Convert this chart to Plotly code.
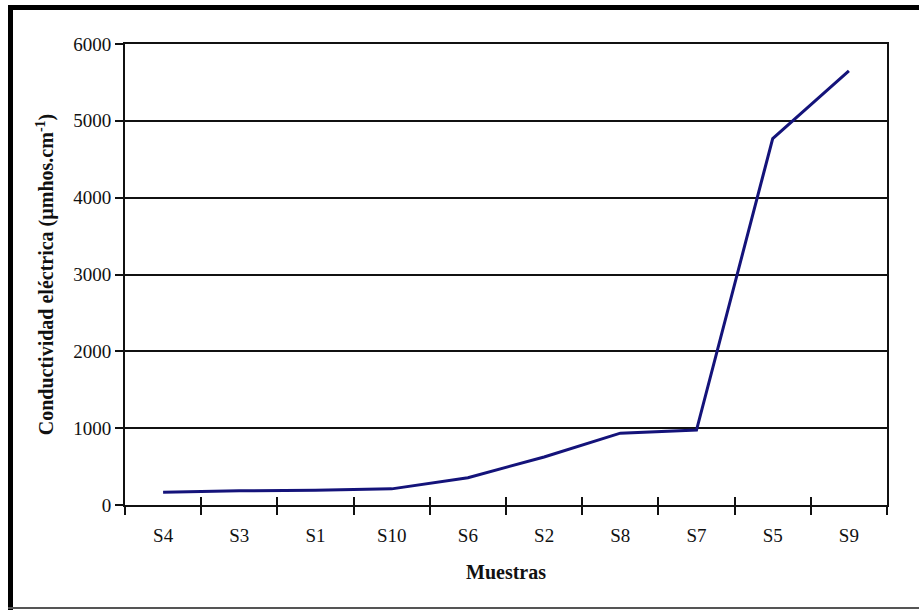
import plotly.graph_objects as go

muestras = ["S4", "S3", "S1", "S10", "S6", "S2", "S8", "S7", "S5", "S9"]
conductividad = [166, 185, 192, 210, 355, 625, 935, 975, 4770, 5650]
y_ticks = [0, 1000, 2000, 3000, 4000, 5000, 6000]

FONT = '"Liberation Serif", "Times New Roman", Times, serif'

fig = go.Figure()
fig.add_trace(go.Scatter(
    x=muestras, y=conductividad, mode="lines",
    line=dict(color="#14137a", width=3),
    showlegend=False, hoverinfo="skip"))
# invisible trace on second x axis to draw inside half of crossing ticks
fig.add_trace(go.Scatter(
    x=muestras, y=conductividad, mode="lines", xaxis="x2",
    line=dict(color="rgba(0,0,0,0)", width=0),
    showlegend=False, hoverinfo="skip"))

fig.update_layout(
    width=919, height=610,
    margin=dict(l=125, r=32, t=44, b=105),
    paper_bgcolor="white", plot_bgcolor="white",
    font=dict(family=FONT, size=19, color="#111"),
    xaxis=dict(
        type="category", categoryorder="array", categoryarray=muestras,
        range=[-0.5, 9.5],
        showline=True, linecolor="#111", linewidth=2, mirror=True,
        ticks="outside", tickson="boundaries", ticklen=8, tickwidth=2, tickcolor="#111",
        ticklabelstandoff=12,
        showgrid=False,
        title=dict(text="<b>Muestras</b>", font=dict(size=20), standoff=20),
    ),
    xaxis2=dict(
        type="category", categoryorder="array", categoryarray=muestras,
        range=[-0.5, 9.5], overlaying="x", side="bottom", matches="x",
        ticks="inside", tickson="boundaries", ticklen=8, tickwidth=2, tickcolor="#111",
        showticklabels=False, showgrid=False, showline=False,
    ),
    yaxis=dict(
        range=[0, 6000], tickvals=y_ticks,
        showline=True, linecolor="#111", linewidth=2, mirror=True,
        ticks="outside", ticklen=8, tickwidth=2, tickcolor="#111",
        showgrid=True, gridcolor="#111", gridwidth=1.5,
        zeroline=False,
        title=dict(text="<b>Conductividad eléctrica (µmhos.cm<sup>-1</sup>)</b>",
                   font=dict(size=20), standoff=14),
    ),
)

# outer frame of the picture
pw, ph = 919 - 125 - 32, 610 - 44 - 105
def px(x):
    return (x - 125) / pw
def py(y):
    return (610 - 105 - y) / ph

fig.add_shape(type="line", xref="paper", yref="paper",
              x0=px(10.5), x1=px(10.5), y0=py(5), y1=py(612),
              line=dict(color="black", width=5))
fig.add_shape(type="line", xref="paper", yref="paper",
              x0=px(8), x1=px(925), y0=py(7.5), y1=py(7.5),
              line=dict(color="black", width=5))
fig.add_shape(type="line", xref="paper", yref="paper",
              x0=px(8), x1=px(925), y0=py(608), y1=py(608),
              line=dict(color="#555", width=2))

fig.write_html("out.html", config={"displayModeBar": False},
               post_script="document.body.style.margin='0px';document.body.style.overflow='hidden';")
